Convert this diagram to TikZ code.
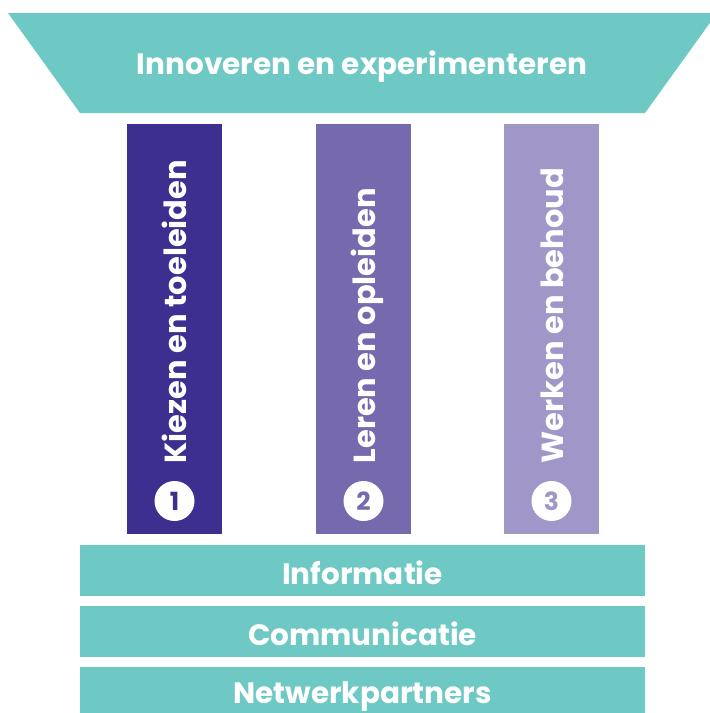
\documentclass[tikz,border=0pt]{standalone}
\usepackage{fontspec}
\setmainfont{Poppins}
\definecolor{innoteal}{RGB}{110,201,196}
\definecolor{pillarone}{RGB}{60,47,143}
\definecolor{pillartwo}{RGB}{119,105,174}
\definecolor{pillarthree}{RGB}{160,151,200}

\begin{document}
\begin{tikzpicture}[x=1pt, y=-1pt,
    band/.style={fill=innoteal, minimum width=565pt, minimum height=51pt, inner sep=0pt,
        text height=27pt, text depth=0pt,
        text=white, font=\bfseries\fontsize{29.5}{34}\selectfont},
    pillar/.style={minimum width=95pt, minimum height=410pt, inner sep=0pt},
    pillartext/.style={rotate=90, anchor=base west, inner sep=0pt, text=white,
        font=\bfseries\fontsize{30.5}{36}\selectfont},
    numdot/.style={circle, fill=white, minimum size=40pt, inner sep=0pt,
        font=\bfseries\fontsize{25}{28}\selectfont}]

    \clip (0,0) rectangle (710,713);

    \fill[innoteal] (8,13) -- (717,13) -- (645,113) -- (80,113) -- cycle;
    \node[anchor=base, text=white, font=\bfseries\fontsize{29.5}{34}\selectfont] (title) at (362,74.5) {Innoveren en experimenteren};

    \node[pillar, fill=pillarone] (p1) at (174.5,329) {};
    \node[pillar, fill=pillartwo] (p2) at (363.5,329) {};
    \node[pillar, fill=pillarthree] (p3) at (551.5,329) {};

    \node[pillartext] (t1) at (186,463.5) {Kiezen en toeleiden};
    \node[pillartext] (t2) at (375,463.5) {Leren en opleiden};
    \node[pillartext] (t3) at (563,463.5) {Werken en behoud};

    \node[numdot, text=pillarone] (n1) at (174.5,501) {1};
    \node[numdot, text=pillartwo] (n2) at (363.5,501) {2};
    \node[numdot, text=pillarthree] (n3) at (551.5,501) {3};

    \node[band] (info) at (362.5,570.5) {Informatie};
    \node[band] (comm) at (362.5,631.5) {Communicatie};
    \node[band, minimum height=46pt] (netw) at (362.5,690) {Netwerkpartners};

\end{tikzpicture}
\end{document}
